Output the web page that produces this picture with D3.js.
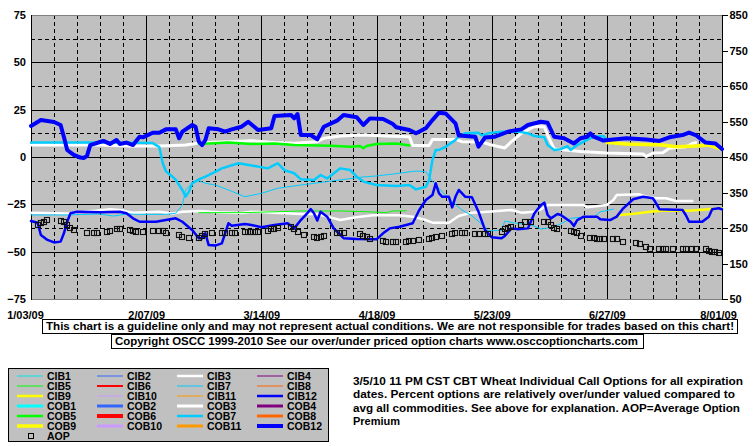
<!DOCTYPE html>
<html><head><meta charset="utf-8">
<script src="https://cdn.jsdelivr.net/npm/d3@7"></script>
<style>
body{margin:0;background:#fff}
svg text{font-family:"Liberation Sans",Arial,sans-serif;font-weight:bold;font-size:11px;fill:#000}
svg text.lg{font-size:10.5px}
</style>
</head><body><svg id="c" width="755" height="446"></svg>
<script>
// ---------- DATA ----------
const startDate = "2009-01-03";
const endDate = "2009-08-01";
const xTickLabels = ["1/03/09","2/07/09","3/14/09","4/18/09","5/23/09","6/27/09","8/01/09"];
const leftTicks = [-75,-50,-25,0,25,50,75];
const rightTicks = [50,150,250,350,450,550,650,750,850];

// series: [days since 1/03/09, percent]
const CIB3 = [[0,-29.4],[11,-29.8],[19,-28.5],[24,-27.6],[27,-28.0],[31,-29.4],[39,-28.9],[43,-29.8],[46,-28.9],[51,-28.5],[57,-29.2],[64,-29.6],[67,-28.9],[82,-30.1],[87,-30.1],[90,-31.5],[94,-33.3],[97,-32.4],[100,-31.5],[104,-30.8],[112,-30.8],[116,-31.5],[120,-33.3],[122,-34.7],[127,-34.7],[130,-31.2],[134,-29.4],[139,-28.9],[146,-28.0],[149,-29.4],[153,-28.9],[155,-27.6],[157,-25.4],[168,-25.4],[169,-26.6],[175,-25.4],[177,-22.7],[178,-20.1],[185,-19.7],[187,-21.0],[190,-21.8],[193,-21.8],[196,-23.2],[201,-23.2]];
const CIB5 = [[51,-29.4],[64,-29.4],[75,-28.9],[82,-28.5],[94,-28.5],[102,-28.9],[108,-29.4],[110,-28.5],[114,-28.4]];
const CIB7 = [[0,-30.6],[11,-30.6],[21,-30.1],[25,-31.2],[29,-30.1],[33,-30.3],[41,-30.3],[44,-29.7],[46,-25.4],[47,-17.4],[49,-13.9],[51,-12.5],[53,-13.9],[56,-14.8],[60,-17.4],[65,-21.0],[70,-19.2],[75,-16.5],[82,-14.8],[90,-13.0],[100,-10.7],[105,-10.0],[110,-9.0],[117,-7.4],[120,-7.8],[122,-12.8],[125,-18.5],[128,-23.5],[131,-28.0],[134,-31.0],[137,-35.5],[139,-39.1],[143,-38.6],[144,-33.8],[147,-34.9],[152,-35.9],[155,-38.0],[159,-37.0],[162,-34.4],[164,-32.4],[168,-31.7],[171,-31.7],[173,-29.0],[177,-27.5]];
const CIB9 = [[177,-32.4],[179,-30.6],[184,-29.8],[188,-28.9],[192,-28.4],[200,-28.4],[206,-27.6],[210,-27.1]];
const CIB12 = [[0,-33.8],[2,-34.7],[3,-41.2],[5,-43.8],[7,-45.1],[9,-44.7],[10,-40.3],[11,-34.2],[12,-29.7],[14,-28.9],[21,-29.2],[27,-28.9],[29,-29.7],[31,-32.4],[33,-34.2],[38,-34.2],[41,-33.3],[44,-32.4],[46,-34.2],[49,-38.6],[51,-42.9],[52,-42.9],[53,-40.3],[54,-46.5],[56,-46.8],[58,-45.6],[59,-40.3],[60,-35.0],[61,-36.3],[65,-35.4],[67,-35.9],[70,-37.1],[74,-35.9],[78,-35.0],[80,-37.7],[82,-33.3],[84,-29.7],[85,-27.5],[86,-29.7],[87,-33.6],[88,-28.9],[90,-31.5],[92,-37.7],[95,-42.9],[99,-43.3],[105,-43.5],[107,-40.3],[109,-37.7],[112,-36.8],[116,-35.0],[118,-28.0],[120,-22.7],[122,-20.1],[123,-13.9],[124,-19.2],[125,-21.0],[127,-21.0],[128,-26.6],[129,-21.0],[130,-17.4],[132,-21.0],[134,-21.3],[136,-28.9],[138,-38.6],[140,-42.4],[143,-42.9],[144,-41.7],[146,-37.7],[148,-38.2],[151,-37.7],[153,-29.7],[155,-25.4],[156,-24.1],[157,-30.6],[158,-32.4],[160,-30.1],[161,-30.6],[164,-34.2],[165,-36.4],[166,-33.3],[168,-31.5],[172,-31.5],[173,-32.9],[176,-33.3],[178,-31.5],[180,-27.1],[183,-22.3],[186,-21.0],[189,-21.8],[190,-24.5],[191,-27.6],[198,-28.0],[199,-30.6],[200,-34.2],[204,-34.2],[206,-31.5],[207,-27.6],[209,-27.1],[210,-27.6]];
const COB3 = [[0,6.3],[21,6.3],[30,5.8],[39,5.8],[47,6.3],[49,6.9],[53,7.6],[60,8.1],[67,8.6],[74,7.6],[80,7.2],[87,8.1],[89,9.9],[94,11.1],[101,11.6],[108,11.1],[115,10.7],[116,6.1],[121,6.1],[122,9.2],[129,9.3],[131,8.1],[137,7.9],[140,6.3],[144,4.8],[146,8.1],[149,12.5],[153,16.1],[156,16.0],[157,11.6],[159,4.2],[167,2.9],[175,2.1],[186,1.6],[187,0.3],[189,2.1],[192,2.3],[194,4.6],[199,5.4],[201,7.1],[202,7.6]];
const COB5 = [[51,6.9],[60,7.6],[67,6.9],[74,7.1],[80,6.3],[91,6.0],[97,5.4],[100,5.8],[101,4.6],[102,5.8],[105,6.9],[111,7.1],[115,6.1]];
const COB7 = [[0,7.6],[21,7.6],[37,7.4],[38,6.3],[39,5.3],[40,-3.0],[41,-7.5],[43,-10.4],[44,-12.1],[46,-17.4],[47,-20.9],[48,-18.3],[49,-13.9],[51,-11.8],[53,-10.4],[56,-7.8],[58,-6.0],[63,-3.3],[68,-4.8],[72,-6.0],[74,-4.2],[75,-3.3],[77,-6.9],[80,-8.6],[82,-11.8],[86,-12.1],[88,-9.5],[90,-11.3],[94,-6.0],[97,-6.9],[99,-10.4],[101,-13.0],[105,-14.8],[111,-15.3],[115,-14.8],[117,-17.1],[120,-15.7],[121,-12.1],[122,-1.6],[123,3.7],[124,3.7],[126,5.4],[129,9.0],[130,11.1],[132,12.5],[136,12.8],[137,11.4],[139,12.5],[143,13.4],[148,13.4],[151,12.5],[153,11.1],[156,10.4],[157,6.3],[159,3.7],[161,4.1],[163,5.8],[164,3.7],[166,6.3],[169,9.0],[171,10.7],[174,11.1],[175,9.0],[177,6.9]];
const COB9 = [[175,7.6],[181,6.9],[192,6.3],[196,5.4],[202,5.8],[206,6.3],[209,4.6],[210,4.2]];
const COB12 = [[0,16.4],[3,19.5],[7,18.5],[9,16.9],[10,10.6],[11,3.7],[13,1.1],[15,-0.3],[16,-0.5],[17,0.5],[18,6.3],[20,7.4],[22,8.5],[24,6.9],[26,9.0],[27,6.9],[29,7.6],[31,6.3],[33,10.7],[34,10.4],[37,12.8],[39,12.8],[41,14.6],[44,14.6],[45,9.9],[46,13.4],[49,16.9],[50,16.0],[51,8.1],[52,6.3],[53,9.0],[54,15.2],[57,14.6],[59,13.4],[61,14.6],[64,16.0],[66,18.6],[69,14.3],[73,15.2],[74,21.7],[79,22.2],[80,20.4],[81,22.7],[82,11.6],[85,11.6],[87,9.3],[89,16.0],[93,19.2],[95,22.2],[99,21.0],[101,16.9],[103,20.4],[107,20.1],[110,17.4],[111,15.7],[115,14.3],[117,12.5],[120,15.2],[122,19.5],[124,23.4],[126,23.0],[129,17.8],[130,11.4],[135,10.7],[136,5.5],[138,10.3],[141,10.7],[145,13.4],[149,14.6],[151,16.9],[155,18.6],[157,18.1],[159,10.7],[162,9.9],[164,8.1],[165,7.2],[167,9.9],[169,10.7],[170,12.5],[171,10.7],[174,8.7],[177,9.3],[181,9.9],[187,9.2],[191,8.5],[194,10.4],[198,11.6],[200,12.9],[202,11.6],[205,7.6],[208,7.1],[210,4.2]];
// AOP on the right axis: [days since 1/03/09, premium]
const AOP = [[2,258.5],[3,265],[4,267.7],[5,272.5],[9,269.7],[10,267.7],[11,258.5],[12,249.1],[13,244.4],[17,236.8],[19,235],[20,235],[23,239.6],[24,242.4],[26,247.2],[27,247.2],[30,244.4],[31,242.4],[32,239.6],[34,237.9],[37,241.4],[39,241.4],[40,241.4],[41,236.8],[45,230.3],[46,223.8],[48,222.7],[51,221],[52,227.5],[53,233.1],[55,235],[58,235],[59,235],[61,235],[62,236.8],[65,239.6],[66,239.6],[67,239.6],[68,239.6],[69,239.6],[72,242.4],[73,247.2],[74,247.2],[75,249.1],[79,253.7],[80,247.2],[81,237.9],[83,230.3],[86,223.8],[87,222.7],[88,225.5],[89,228.3],[93,235],[94,236.8],[95,236.8],[100,233.1],[101,227.5],[102,223.8],[103,219],[107,214.2],[108,211.4],[110,211.4],[111,211.4],[114,211.4],[115,214.2],[116,214.2],[118,216.2],[121,218.2],[122,221],[123,223.8],[125,227.5],[128,232.3],[129,235],[131,236.8],[132,235],[135,232.3],[136,232.3],[138,232.3],[139,233.1],[143,239.6],[144,246.2],[145,249.1],[146,252],[149,258.5],[150,267.7],[152,267.7],[156,267.7],[157,266],[158,258.5],[159,249.1],[160,247.2],[164,242.4],[165,239.6],[166,235],[167,227.5],[170,222.7],[171,222.7],[172,218.2],[173,218.2],[174,218.2],[177,219],[178,218.2],[180,211.4],[184,208.6],[185,204.1],[187,197.3],[188,190.8],[191,190.8],[192,190.8],[193,190.8],[195,190],[198,190.8],[199,190.8],[201,190],[202,190],[205,190],[206,186],[207,183.3],[208,183.3],[209,180.4]];

const legendNames = ["CIB1","CIB2","CIB3","CIB4","CIB5","CIB6","CIB7","CIB8","CIB9","CIB10","CIB11","CIB12",
                     "COB1","COB2","COB3","COB4","COB5","COB6","COB7","COB8","COB9","COB10","COB11","COB12"];
const disclaimer = "This chart is a guideline only and may not represent actual conditions. We are not responsible for trades based on this chart!";
const copyright = "Copyright OSCC 1999-2010 See our over/under priced option charts www.osccoptioncharts.com";
const noteLines = ["3/5/10 11 PM CST CBT Wheat Individual Call Options for all expiration",
                   "dates. Percent options are relatively over/under valued compared to",
                   "avg all commodities. See above for explanation. AOP=Average Option",
                   "Premium"];

// ---------- STYLES ----------
const style = {
  CIB1:["#00E8E8",1], CIB2:["#3366FF",1], CIB3:["#FFFFFF",2.5], CIB4:["#800080",1],
  CIB5:["#00FF00",1], CIB6:["#FF0000",2], CIB7:["#00CCFF",1], CIB8:["#FF6600",1],
  CIB9:["#FFFF00",2.5], CIB10:["#CC99FF",1], CIB11:["#FF9900",1], CIB12:["#0000FF",2.5],
  COB1:["#00FFFF",3], COB2:["#3366FF",3], COB3:["#FFFFFF",3], COB4:["#800080",3],
  COB5:["#00FF00",2.5], COB6:["#FF0000",4], COB7:["#00CCFF",2.5], COB8:["#FF6600",3],
  COB9:["#FFFF00",3.5], COB10:["#CC99FF",3], COB11:["#FF9900",3], COB12:["#0000FF",4]
};
const seriesData = {CIB3, CIB5, CIB7, CIB9, CIB12, COB3, COB5, COB7, COB9, COB12};

// ---------- CHART ----------
const svg = d3.select("#c");
const P = {l:31, r:722, t:15, b:299};
const start = d3.timeParse("%Y-%m-%d")(startDate);
const end = d3.timeParse("%Y-%m-%d")(endDate);
const toDate = d => d3.timeDay.offset(start, d);
const x = d3.scaleTime().domain([start, end]).range([P.l, P.r]);
const yL = d3.scaleLinear().domain([-75, 75]).range([P.b, P.t]);
const yR = d3.scaleLinear().domain([50, 850]).range([P.b, P.t]);

svg.append("rect").attr("x",P.l).attr("y",P.t).attr("width",P.r-P.l).attr("height",P.b-P.t).attr("fill","#C0C0C0");

// grid
const g = svg.append("g").attr("shape-rendering","crispEdges");
d3.range(0, 211, 7).forEach(d => {
  const xx = Math.round(x(toDate(d))) + 0.5;
  if (d === 0 || d === 210) return;
  g.append("line").attr("x1",xx).attr("x2",xx).attr("y1",P.t).attr("y2",P.b)
   .attr("stroke","#000").attr("stroke-width",1)
   .attr("stroke-dasharray", d % 35 === 0 ? null : "4,3");
});
d3.range(-62.5, 75, 12.5).forEach(v => {
  const yy = Math.round(yL(v)) + 0.5;
  g.append("line").attr("x1",P.l).attr("x2",P.r).attr("y1",yy).attr("y2",yy)
   .attr("stroke","#000").attr("stroke-width",1)
   .attr("stroke-dasharray", v % 25 === 0 ? null : "4,3");
});
// frame
g.append("line").attr("x1",P.l).attr("x2",P.r).attr("y1",P.t+0.5).attr("y2",P.t+0.5).attr("stroke","#808080");
g.append("line").attr("x1",P.l).attr("x2",P.r).attr("y1",P.b+0.5).attr("y2",P.b+0.5).attr("stroke","#808080").attr("stroke-width",1.5);
g.append("line").attr("x1",P.l+0.5).attr("x2",P.l+0.5).attr("y1",P.t).attr("y2",P.b+1).attr("stroke","#000");
g.append("line").attr("x1",P.r+0.5).attr("x2",P.r+0.5).attr("y1",P.t).attr("y2",P.b+1).attr("stroke","#000");

// axes
const axL = svg.append("g").attr("transform",`translate(${P.l},0)`)
  .call(d3.axisLeft(yL).tickValues(leftTicks).tickSize(0).tickPadding(5));
axL.select(".domain").remove();
const axR = svg.append("g").attr("transform",`translate(${P.r+0.5},0)`)
  .call(d3.axisRight(yR).tickValues(rightTicks).tickSize(5).tickPadding(2));
axR.select(".domain").remove();
axR.selectAll("line").attr("stroke","#000").attr("shape-rendering","crispEdges");
const parseTick = d3.timeParse("%m/%d/%y");
const tickDates = xTickLabels.map(parseTick);
const axB = svg.append("g").attr("transform",`translate(0,${P.b})`)
  .call(d3.axisBottom(x).tickValues(tickDates).tickSize(0).tickPadding(12)
        .tickFormat((d,i) => xTickLabels[i]));
axB.select(".domain").remove();
axB.selectAll("text").attr("dx",(d,i) => i === 0 ? -6 : (i === xTickLabels.length-1 ? -4 : 0));
svg.selectAll(".tick text").style("font-family",'"Liberation Sans",Arial,sans-serif').style("font-weight","bold").style("font-size","11px").attr("fill","#000");

// lines
const line = d3.line().x(d => x(toDate(d[0]))).y(d => yL(d[1]));
const plot = svg.append("g");
legendNames.forEach(name => {
  const data = seriesData[name];
  if (!data) return;
  plot.append("path").datum(data).attr("d", line).attr("fill","none")
    .attr("stroke", style[name][0]).attr("stroke-width", style[name][1])
    .attr("stroke-linejoin","round").attr("stroke-linecap","round");
});
// AOP markers
plot.selectAll("rect.aop").data(AOP).join("rect").attr("class","aop")
  .attr("x", d => Math.round(x(toDate(d[0]))) - 2.5)
  .attr("y", d => Math.round(yR(d[1])) - 2.5)
  .attr("width",5).attr("height",5)
  .attr("fill","none").attr("stroke","#111").attr("stroke-width",1.1);

// disclaimer boxes
function box(x0, y0, w, h, txt, tx, tl) {
  svg.append("rect").attr("x",x0+0.5).attr("y",y0+0.5).attr("width",w).attr("height",h)
    .attr("fill","#fff").attr("stroke","#000");
  svg.append("text").attr("x",tx).attr("y",y0+h-3).text(txt)
    .attr("textLength",tl).attr("lengthAdjust","spacingAndGlyphs");
}
box(42, 319, 695, 14, disclaimer, 46, 688);
box(111, 334, 532, 14, copyright, 115, 523);

// legend
svg.append("rect").attr("x",8.5).attr("y",368.5).attr("width",320).attr("height",73)
  .attr("fill","#C0C0C0").attr("stroke","#000");
const lg = svg.append("g");
legendNames.forEach((name,i) => {
  const col = i % 4, row = Math.floor(i / 4);
  const yy = 376 + row * 10;
  lg.append("line").attr("x1",17 + col*80).attr("x2",43 + col*80).attr("y1",yy).attr("y2",yy)
    .attr("stroke",style[name][0]).attr("stroke-width",style[name][1]);
  lg.append("text").attr("class","lg").attr("x",47 + col*80).attr("y",yy+4).text(name);
});
lg.append("rect").attr("x",28.5).attr("y",433.5).attr("width",5).attr("height",5)
  .attr("fill","none").attr("stroke","#000");
lg.append("text").attr("class","lg").attr("x",47).attr("y",440).text("AOP");

// note text
const noteLen = [390, 382, 387, null];
noteLines.forEach((t,i) => {
  const tx = svg.append("text").attr("x",353).attr("y",385 + i*13.3).text(t);
  if (noteLen[i]) tx.attr("textLength",noteLen[i]).attr("lengthAdjust","spacingAndGlyphs");
});
</script></body></html>
